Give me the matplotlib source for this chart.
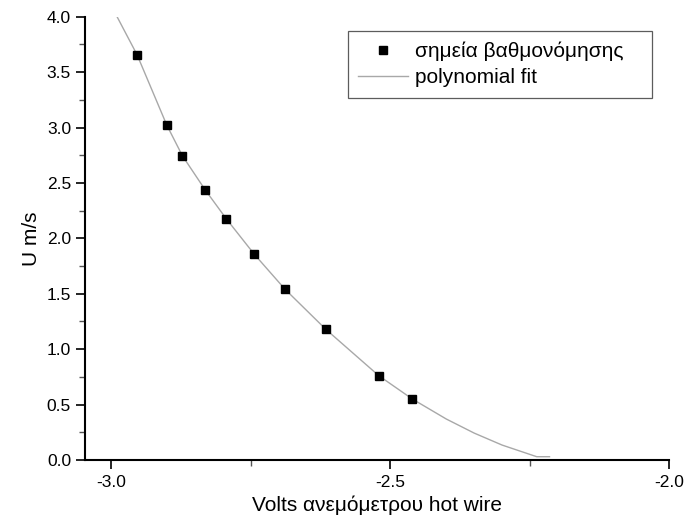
import matplotlib.pyplot as plt
from matplotlib.ticker import MultipleLocator, FormatStrFormatter

plt.rcParams['font.family'] = ['Liberation Sans', 'DejaVu Sans']

# calibration points (volts, m/s)
volts = [-2.954, -2.901, -2.873, -2.832, -2.794, -2.744, -2.689, -2.616, -2.521, -2.461]
speed = [3.655, 3.023, 2.746, 2.437, 2.175, 1.856, 1.541, 1.180, 0.761, 0.551]

# fitted curve
fit_volts = [-2.99, -2.954, -2.901, -2.873, -2.832, -2.794, -2.744, -2.689, -2.616,
             -2.565, -2.521, -2.461, -2.40, -2.35, -2.30, -2.238, -2.215]
fit_speed = [4.0, 3.655, 3.023, 2.746, 2.437, 2.175, 1.856, 1.541, 1.180,
             0.955, 0.761, 0.551, 0.370, 0.243, 0.135, 0.03, 0.03]

fig = plt.figure(figsize=(6.87, 5.24), dpi=100)
ax = fig.add_axes([0.1237, 0.1221, 0.8508, 0.846])

ax.plot(fit_volts, fit_speed, color="#a8a8a8", linewidth=1.0, label="polynomial fit", zorder=2)
ax.plot(volts, speed, linestyle="none", marker="s", markersize=6.2, color="black",
        label="σημεία βαθμονόμησης", zorder=3)

ax.set_xlim(-3.0475, -2.0)
ax.set_ylim(0.0, 4.0)
ax.xaxis.set_major_locator(MultipleLocator(0.5))
ax.xaxis.set_minor_locator(MultipleLocator(0.25))
ax.yaxis.set_major_locator(MultipleLocator(0.5))
ax.yaxis.set_minor_locator(MultipleLocator(0.25))
ax.xaxis.set_major_formatter(FormatStrFormatter('%.1f'))
ax.yaxis.set_major_formatter(FormatStrFormatter('%.1f'))

for s in ["top", "right"]:
    ax.spines[s].set_visible(False)
for s in ["left", "bottom"]:
    ax.spines[s].set_linewidth(1.5)
ax.tick_params(which="major", length=6.5, width=1.2, labelsize=12.5, pad=3.5, direction="out")
ax.tick_params(axis="x", which="major", pad=4.5)
ax.tick_params(which="minor", length=4.3, width=1.0, color="#555555", direction="out")

ax.set_xlabel("Volts ανεμόμετρου hot wire", fontsize=15, labelpad=4)
ax.set_ylabel("U m/s", fontsize=15, labelpad=4)

handles, labels = ax.get_legend_handles_labels()
leg = ax.legend(handles[::-1], labels[::-1], loc="upper left",
                bbox_to_anchor=(0.5066, 0.8408, 0.4425, 0.1), bbox_transform=fig.transFigure,
                mode="expand", borderaxespad=0, fontsize=15, frameon=True, fancybox=False,
                edgecolor="#333333", handlelength=2.4, handletextpad=0.3,
                borderpad=0.5, labelspacing=0.35)
leg.get_frame().set_linewidth(0.9)

fig.savefig("out.png", dpi=100)
